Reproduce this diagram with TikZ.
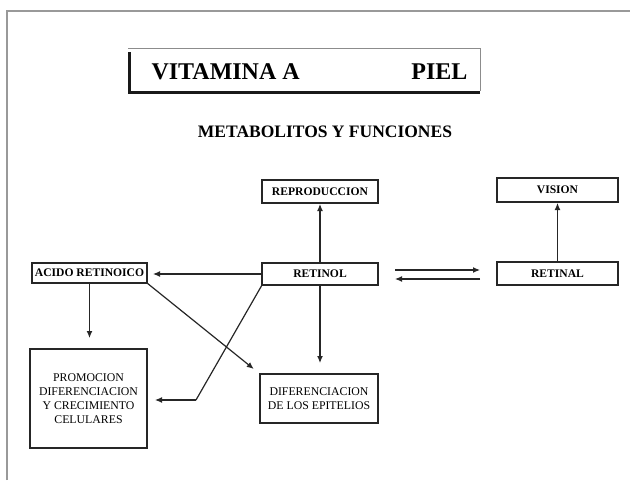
\documentclass[tikz,border=0pt]{standalone}
\usepackage{fontspec}
\setmainfont{Liberation Serif}
\usetikzlibrary{arrows.meta,calc}
\begin{document}
\begin{tikzpicture}[x=1pt,y=-1pt,
  box/.style={draw=black!85,line width=1.2pt,inner sep=0pt,outer sep=0pt,align=center,
    font=\bfseries\fontsize{11.6}{13.5}\selectfont},
  tbox/.style={box,font=\fontsize{11.8}{14}\selectfont},
  arr/.style={draw=black!85,line width=1.2pt,-{Latex[length=7pt,width=6pt]}},
  ln/.style={draw=black!85,line width=1.2pt}]
\useasboundingbox (0,0) rectangle (630,480);
% outer frame
\draw[black!40,line width=1.5pt] (7,480) -- (7,11) -- (630,11);
% title box
\draw[black!45,line width=0.8pt] (128,48) -- (480,48) -- (480,91);
\draw[black!90,line width=3pt] (129,52) -- (129,92) -- (480,92);
\node[anchor=base west,font=\bfseries\fontsize{24}{28}\selectfont] (t1) at (148,79) {VITAMINA A};
\node[anchor=base east,font=\bfseries\fontsize{24}{28}\selectfont] (t2) at (471,79) {PIEL};
\node[anchor=base,font=\bfseries\fontsize{17.5}{20}\selectfont] (sub) at (325,137) {METABOLITOS Y FUNCIONES};
% boxes
\node[box,minimum width=116,minimum height=23] (repro) at (320,191.5) {REPRODUCCION};
\node[box,minimum width=121,minimum height=24] (vision) at (557.5,190) {VISION};
\node[box,minimum width=115,minimum height=20] (acido) at (89.5,273) {ACIDO RETINOICO};
\node[box,minimum width=116,minimum height=22] (retinol) at (320,274) {RETINOL};
\node[box,minimum width=121,minimum height=23] (retinal) at (557.5,273.5) {RETINAL};
\node[tbox,minimum width=117,minimum height=99] (promo) at (88.5,398.5) {PROMOCION\\DIFERENCIACION\\Y CRECIMIENTO\\CELULARES};
\node[tbox,minimum width=118,minimum height=49] (difer) at (319,398.5) {DIFERENCIACION\\DE LOS EPITELIOS};
\coordinate (bend) at (196,400);
% connectors
\draw[arr,shorten >=1pt] (retinol.north) -- (repro.south);
\draw[arr,shorten >=1pt] (retinal.north) -- (vision.south);
\draw[arr,shorten >=6pt] (retinol.west) -- (retinol.west -| acido.east);
\draw[arr,shorten >=11pt] (retinol.south) -- (retinol.south |- difer.north);
\draw[arr,shorten >=11pt] (acido.south) -- (acido.south |- promo.north);
\draw[arr,shorten >=8pt] (acido.south east) -- (difer.north west);
\draw[arr,shorten >=17pt,shorten <=17pt] ([yshift=4pt]retinol.east) -- ([yshift=4pt]retinol.east -| retinal.west);
\draw[arr,shorten >=17pt,shorten <=17pt] ([yshift=-5pt]retinol.east -| retinal.west) -- ([yshift=-5pt]retinol.east);
\draw[ln] (retinol.south west) -- (bend);
\draw[arr,shorten >=8pt] (bend) -- (bend -| promo.east);
\end{tikzpicture}
\end{document}
